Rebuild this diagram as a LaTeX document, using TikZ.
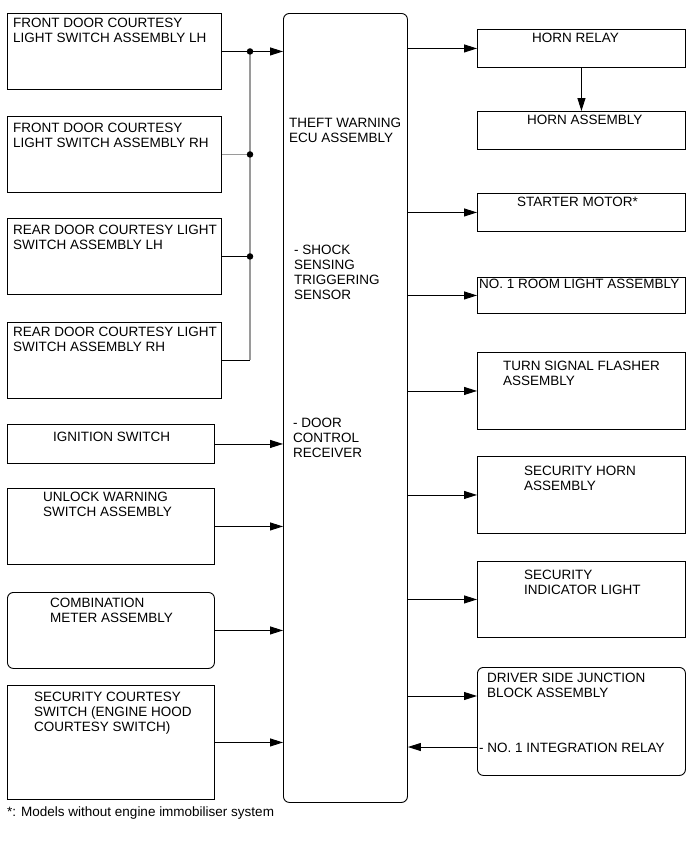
\documentclass[tikz,border=0pt]{standalone}
\usepackage{fontspec}
\setmainfont{Liberation Sans}
\usetikzlibrary{arrows.meta, positioning, calc}
\definecolor{buswire}{HTML}{9A9A9A}

\begin{document}
\begin{tikzpicture}[x=1pt, y=-1pt,
    box/.style={draw, line width=0.9pt, anchor=north west, inner sep=0pt},
    rbox/.style={box, rounded corners=6pt},
    lbl/.style={anchor=north west, inner sep=0pt, align=left, font=\fontsize{13.5}{15}\selectfont},
    sig/.style={line width=0.9pt, -{Triangle[length=13pt, width=8pt]}},
    bus/.style={line width=1.8pt, buswire},
    dot/.style={circle, fill, inner sep=0pt, minimum size=6.5pt}]
  \useasboundingbox (0,0) rectangle (691,855);

  % inputs
  \node[box, minimum width=214pt, minimum height=76pt] (fdl) at (7,13) {};
  \node[lbl] (fdltxt) at (13,18) {FRONT DOOR COURTESY\\LIGHT SWITCH ASSEMBLY LH};
  \node[box, minimum width=214pt, minimum height=76pt] (fdr) at (7,116) {};
  \node[lbl] (fdrtxt) at (13,123) {FRONT DOOR COURTESY\\LIGHT SWITCH ASSEMBLY RH};
  \node[box, minimum width=214pt, minimum height=76pt] (rdl) at (7,218) {};
  \node[lbl] (rdltxt) at (13,225) {REAR DOOR COURTESY LIGHT\\SWITCH ASSEMBLY LH};
  \node[box, minimum width=214pt, minimum height=76pt] (rdr) at (7,322) {};
  \node[lbl] (rdrtxt) at (13,327) {REAR DOOR COURTESY LIGHT\\SWITCH ASSEMBLY RH};
  \node[box, minimum width=207pt, minimum height=39pt] (ign) at (7,424) {};
  \node[lbl] (igntxt) at (53,432) {IGNITION SWITCH};
  \node[box, minimum width=207pt, minimum height=76pt] (unl) at (7,488) {};
  \node[lbl] (unltxt) at (43,492) {UNLOCK WARNING\\SWITCH ASSEMBLY};
  \node[rbox, minimum width=207pt, minimum height=76pt] (cmb) at (7,592) {};
  \node[lbl] (cmbtxt) at (50,598) {COMBINATION\\METER ASSEMBLY};
  \node[box, minimum width=207pt, minimum height=114pt] (sec) at (7,685) {};
  \node[lbl] (sectxt) at (34,692) {SECURITY COURTESY\\SWITCH (ENGINE HOOD\\COURTESY SWITCH)};

  % ECU
  \node[rbox, minimum width=124pt, minimum height=789pt] (ecu) at (283,13) {};
  \node[lbl] (ecutxt) at (289,118) {THEFT WARNING\\ECU ASSEMBLY};
  \node[lbl] (shktxt) at (294,245) {- SHOCK\\SENSING\\TRIGGERING\\SENSOR};
  \node[lbl] (dortxt) at (293,418) {- DOOR\\CONTROL\\RECEIVER};

  % outputs
  \node[box, minimum width=208pt, minimum height=38pt] (hrl) at (477,29) {};
  \node[lbl] (hrltxt) at (532,33) {HORN RELAY};
  \node[box, minimum width=208pt, minimum height=38pt] (hrn) at (477,111) {};
  \node[lbl] (hrntxt) at (527,115) {HORN ASSEMBLY};
  \node[box, minimum width=208pt, minimum height=38pt] (stm) at (477,193) {};
  \node[lbl] (stmtxt) at (517,197) {STARTER MOTOR*};
  \node[box, minimum width=208pt, minimum height=36pt] (rml) at (477,277) {};
  \node[lbl] (rmltxt) at (479,279) {NO. 1 ROOM LIGHT ASSEMBLY};
  \node[box, minimum width=208pt, minimum height=77pt] (tsf) at (477,352) {};
  \node[lbl] (tsftxt) at (503,361) {TURN SIGNAL FLASHER\\ASSEMBLY};
  \node[box, minimum width=208pt, minimum height=77pt] (shn) at (477,456) {};
  \node[lbl] (shntxt) at (524,466) {SECURITY HORN\\ASSEMBLY};
  \node[box, minimum width=208pt, minimum height=76pt] (sil) at (477,561) {};
  \node[lbl] (siltxt) at (524,570) {SECURITY\\INDICATOR LIGHT};
  \node[rbox, minimum width=208pt, minimum height=108pt] (djb) at (477,667) {};
  \node[lbl] (djbtxt) at (487,673) {DRIVER SIDE JUNCTION\\BLOCK ASSEMBLY};
  \node[lbl] (irltxt) at (479,743) {- NO. 1 INTEGRATION RELAY};
  \coordinate (djbin) at ($(djb.north west)+(0,29)$);
  \coordinate (djbout) at ($(djb.north west)+(0,80)$);

  \node[anchor=north west, inner sep=0pt, font=\fontsize{13.5}{15}\selectfont] (note) at (7,807) {*: Models without engine immobiliser system};

  % courtesy switch bus
  \coordinate (tap) at (250,0);
  \draw[bus] (tap |- fdl.east) -- (tap |- rdr.east);
  \draw[bus] (fdr.east) -- (tap |- fdr.east);
  \draw[line width=0.9pt] (rdl.east) -- (tap |- rdl.east);
  \draw[line width=0.9pt] (rdr.east) -- (tap |- rdr.east);
  \draw[sig] (fdl.east) -- (ecu.west |- fdl.east);
  \node[dot] (j1) at (tap |- fdl.east) {};
  \node[dot] (j2) at (tap |- fdr.east) {};
  \node[dot] (j3) at (tap |- rdl.east) {};

  \foreach \src in {ign, unl, cmb, sec}
    \draw[sig] (\src.east) -- (ecu.west |- \src.east);
  \foreach \dst in {hrl, stm, rml, tsf, shn, sil}
    \draw[sig] (ecu.east |- \dst.west) -- (\dst.west);
  \draw[sig] (hrl.south) -- (hrn.north);
  \draw[sig] (ecu.east |- djbin) -- (djbin);
  \draw[sig] (djbout) -- (ecu.east |- djbout);
\end{tikzpicture}
\end{document}
